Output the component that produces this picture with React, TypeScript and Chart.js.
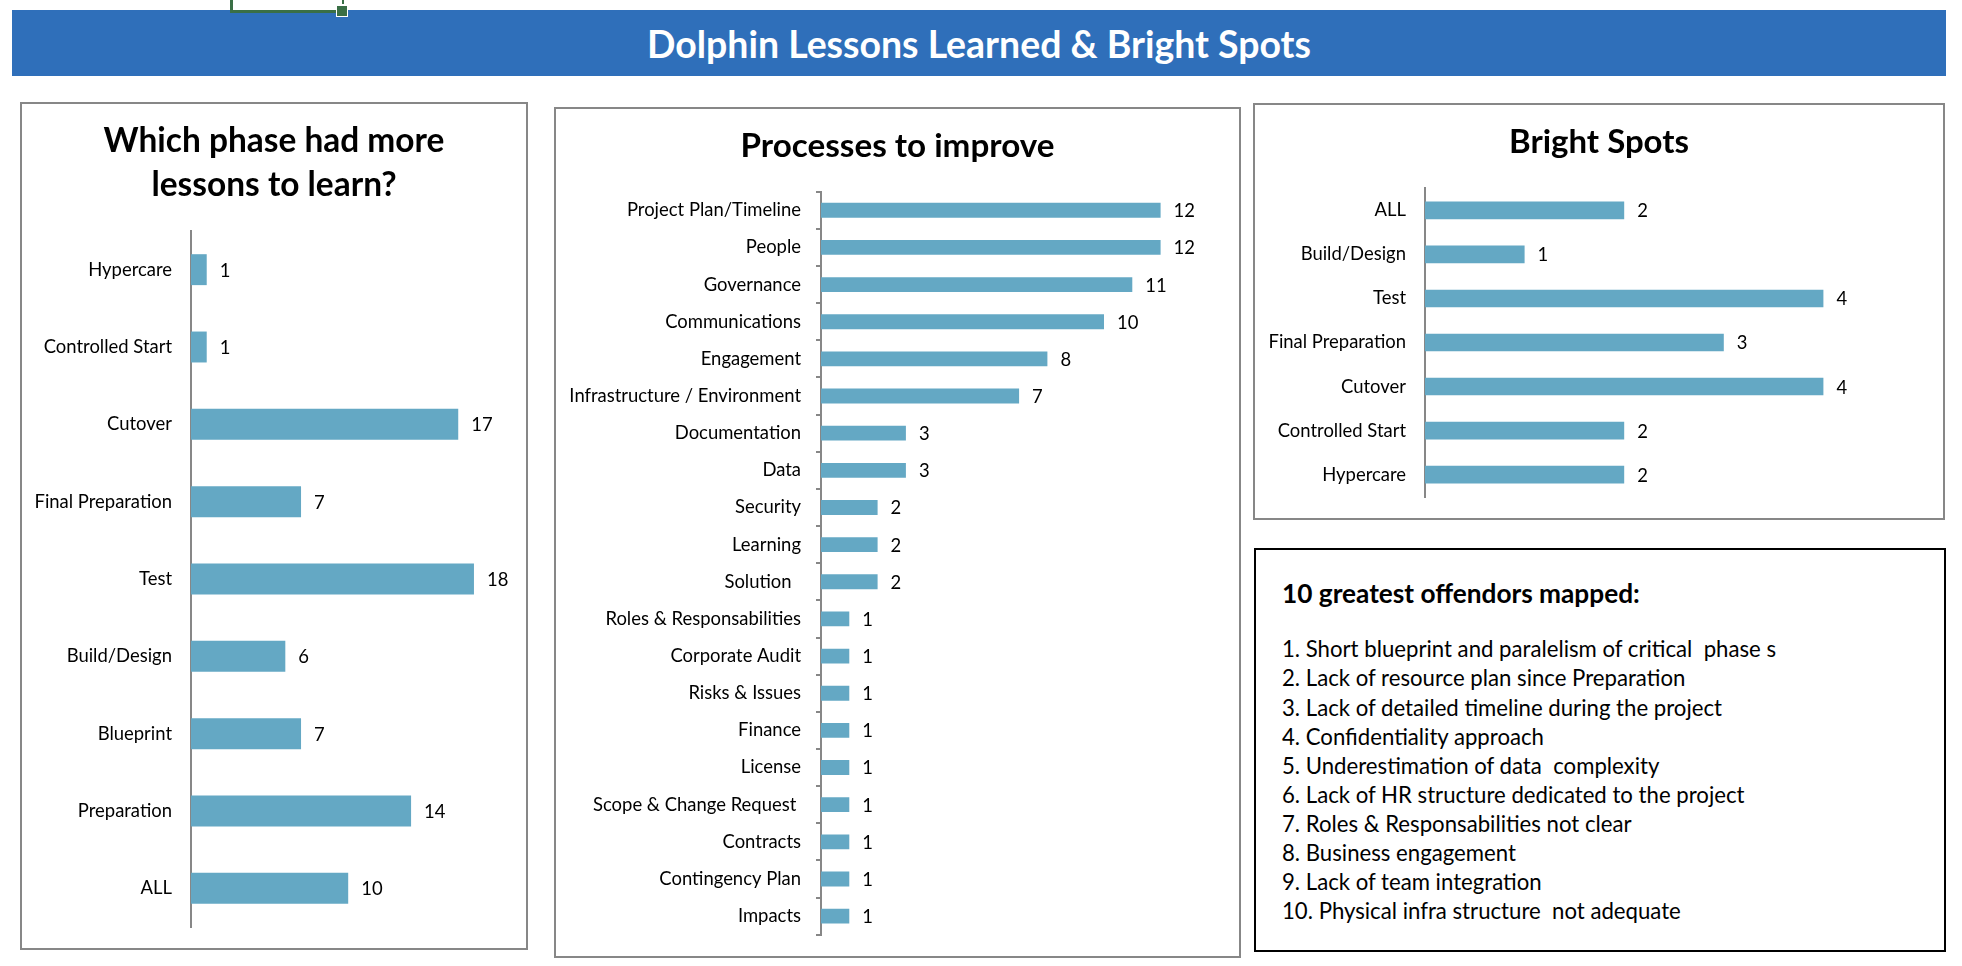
import React, { useEffect, useRef } from 'react';
import { Chart, registerables } from 'chart.js';

Chart.register(...registerables);

// ---------------- data ----------------
const phaseCategories = [
  'Hypercare',
  'Controlled Start',
  'Cutover',
  'Final Preparation',
  'Test',
  'Build/Design',
  'Blueprint',
  'Preparation',
  'ALL',
];
const phaseValues = [1, 1, 17, 7, 18, 6, 7, 14, 10];

const processCategories = [
  'Project Plan/Timeline',
  'People',
  'Governance',
  'Communications',
  'Engagement',
  'Infrastructure / Environment',
  'Documentation',
  'Data',
  'Security',
  'Learning',
  'Solution  ',
  'Roles & Responsabilities',
  'Corporate Audit',
  'Risks & Issues',
  'Finance',
  'License',
  'Scope & Change Request ',
  'Contracts',
  'Contingency Plan',
  'Impacts',
];
const processValues = [12, 12, 11, 10, 8, 7, 3, 3, 2, 2, 2, 1, 1, 1, 1, 1, 1, 1, 1, 1];

const brightCategories = [
  'ALL',
  'Build/Design',
  'Test',
  'Final Preparation',
  'Cutover',
  'Controlled Start',
  'Hypercare',
];
const brightValues = [2, 1, 4, 3, 4, 2, 2];

const bannerTitle = 'Dolphin Lessons Learned & Bright Spots';
const phaseTitle = ['Which phase had more', 'lessons to learn?'];
const processTitle = ['Processes to improve'];
const brightTitle = ['Bright Spots'];

const offenderHeading = '10 greatest offendors mapped:';
const offenderItems = [
  '1. Short blueprint and paralelism of critical  phase s',
  '2. Lack of resource plan since Preparation',
  '3. Lack of detailed timeline during the project',
  '4. Confidentiality approach',
  '5. Underestimation of data  complexity',
  '6. Lack of HR structure dedicated to the project',
  '7. Roles & Responsabilities not clear',
  '8. Business engagement',
  '9. Lack of team integration',
  '10. Physical infra structure  not adequate',
];

// ---------------- styles ----------------
const FONT = 'Lato';
const BAR = '#64A8C4';
const AXIS = '#878787';
const BANNER = '#2F6FBA';
const ASC = 0.887; // baseline offset for line-height = 1em
const MID = 0.387; // canvas "middle" baseline offset
const HTML_SHIFT = 3;
const TITLE_SHIFT = 2;

Chart.defaults.font.family = FONT;

function fitSize(text: string, weight: number, target: number) {
  const c = document.createElement('canvas').getContext('2d') as CanvasRenderingContext2D;
  c.font = `${weight} 100px ${FONT}`;
  return (100 * target) / c.measureText(text).width;
}

const valueLabels = {
  id: 'valueLabels',
  afterDatasetsDraw(chart: any, _args: any, opts: any) {
    const ctx = chart.ctx;
    ctx.save();
    ctx.font = `400 ${opts.size}px ${FONT}`;
    ctx.fillStyle = '#000';
    ctx.textBaseline = 'middle';
    ctx.textAlign = 'left';
    chart.data.datasets.forEach((ds: any, i: number) => {
      chart.getDatasetMeta(i).data.forEach((bar: any, j: number) => {
        ctx.fillText(String(ds.data[j]), bar.x + opts.gap, bar.y + 1);
      });
    });
    ctx.restore();
  },
};

type Box = { x: number; y: number; w: number; h: number };

type PanelProps = {
  box: Box;
  title: string[];
  titleTarget: number;
  titleBaselines: number[];
  categories: string[];
  values: number[];
  axisX: number;
  areaTop: number;
  areaBottom: number;
  unit: number;
  tickSize: number;
  showTicks: boolean;
  labelRight: number;
};

function BarPanel(p: PanelProps) {
  const ref = useRef<HTMLCanvasElement>(null);
  useEffect(() => {
    const { box } = p;
    const titleSize = fitSize(p.title[0], 700, p.titleTarget);
    const lh = p.titleBaselines.length > 1 ? p.titleBaselines[1] - p.titleBaselines[0] : titleSize * 1.2;
    const mid0 = p.titleBaselines[0] + TITLE_SHIFT - MID * titleSize;
    const padTop = mid0 - box.y - lh / 2;
    const topRel = p.areaTop - box.y;
    const padBottom = topRel - padTop - lh * p.title.length;
    const axisRel = p.axisX - box.x;
    const bottomPad = box.y + box.h - p.areaBottom;
    const tickLen = p.showTicks ? 5 : 0;
    const labelPad = p.axisX - p.labelRight - tickLen;

    const chart = new Chart(ref.current as HTMLCanvasElement, {
      type: 'bar',
      data: {
        labels: p.categories,
        datasets: [
          {
            data: p.values,
            backgroundColor: BAR,
            barPercentage: 0.4,
            categoryPercentage: 1,
          },
        ],
      },
      options: {
        indexAxis: 'y',
        responsive: false,
        maintainAspectRatio: false,
        animation: false,
        layout: { padding: { top: 0, left: 0, right: 0, bottom: bottomPad } },
        scales: {
          x: { display: false, min: 0, max: (box.w - axisRel) / p.unit },
          y: {
            offset: true,
            grid: {
              display: p.showTicks,
              drawOnChartArea: false,
              drawTicks: p.showTicks,
              tickLength: 5,
              color: AXIS,
              lineWidth: 2,
              offset: true,
            },
            border: { display: true, color: AXIS, width: 2 },
            ticks: {
              color: '#000',
              autoSkip: false,
              padding: labelPad,
              font: { family: FONT, size: p.tickSize },
            },
            afterFit: (s: any) => {
              s.width = axisRel;
              s.paddingTop = 0;
              s.paddingBottom = 0;
            },
          },
        },
        plugins: {
          legend: { display: false },
          tooltip: { enabled: false },
          title: {
            display: true,
            text: p.title,
            color: '#000',
            font: { family: FONT, size: titleSize, weight: 'bold', lineHeight: lh / titleSize },
            padding: { top: padTop, bottom: padBottom },
          },
          valueLabels: { size: p.tickSize, gap: 13 },
        } as any,
      },
      plugins: [valueLabels],
    } as any);
    return () => chart.destroy();
  }, []);
  const { box } = p;
  return (
    <>
      <canvas
        ref={ref}
        width={box.w}
        height={box.h}
        style={{ position: 'absolute', left: box.x, top: box.y, width: box.w, height: box.h }}
      />
      <div
        style={{
          position: 'absolute',
          left: box.x,
          top: box.y,
          width: box.w,
          height: box.h,
          border: `2px solid ${AXIS}`,
          boxSizing: 'border-box',
          pointerEvents: 'none',
        }}
      />
    </>
  );
}

function Txt(props: { text: string; x: number; baseline: number; size: number; weight: number; color?: string; center?: boolean }) {
  const { text, x, baseline, size, weight, color, center } = props;
  return (
    <div
      style={{
        position: 'absolute',
        left: center ? x - 600 : x,
        width: center ? 1200 : undefined,
        textAlign: center ? 'center' : 'left',
        top: baseline + HTML_SHIFT - ASC * size,
        fontFamily: FONT,
        fontSize: size,
        fontWeight: weight,
        lineHeight: `${size}px`,
        whiteSpace: 'pre',
        color: color || '#000',
      }}
    >
      {text}
    </div>
  );
}

export default function App() {
  const tickSize =
    (fitSize('Final Preparation', 400, 137) + fitSize('Infrastructure / Environment', 400, 233)) / 2;
  const bannerSize = fitSize(bannerTitle, 700, 664);
  const headSize = fitSize(offenderHeading, 700, 358);
  const itemSize = fitSize(offenderItems[1], 400, 404);

  return (
    <div style={{ position: 'absolute', left: 0, top: 0, width: 1962, height: 966, background: '#fff', overflow: 'hidden' }}>
      {/* banner */}
      <div style={{ position: 'absolute', left: 12, top: 10, width: 1934, height: 66, background: BANNER }} />
      <Txt text={bannerTitle} x={979} baseline={55} size={bannerSize} weight={700} color="#fff" center />

      {/* spreadsheet selection marker */}
      <div style={{ position: 'absolute', left: 230, top: 0, width: 3, height: 13, background: '#3A6F46' }} />
      <div style={{ position: 'absolute', left: 230, top: 10, width: 107, height: 3, background: '#3A6F46' }} />
      <div style={{ position: 'absolute', left: 342, top: 0, width: 2, height: 4, background: '#3A6F46' }} />
      <div style={{ position: 'absolute', left: 337, top: 6, width: 10, height: 10, background: '#3A6F46', outline: '1px solid #fff' }} />

      <BarPanel
        box={{ x: 20, y: 102, w: 508, h: 848 }}
        title={phaseTitle}
        titleTarget={341}
        titleBaselines={[152.6, 196]}
        categories={phaseCategories}
        values={phaseValues}
        axisX={191}
        areaTop={231}
        areaBottom={927}
        unit={15.72}
        tickSize={tickSize}
        showTicks={false}
        labelRight={172}
      />

      <BarPanel
        box={{ x: 554, y: 107, w: 687, h: 851 }}
        title={processTitle}
        titleTarget={314}
        titleBaselines={[157.5]}
        categories={processCategories}
        values={processValues}
        axisX={821}
        areaTop={191.7}
        areaBottom={934.7}
        unit={28.3}
        tickSize={tickSize}
        showTicks={true}
        labelRight={801}
      />

      <BarPanel
        box={{ x: 1253, y: 103, w: 692, h: 417 }}
        title={brightTitle}
        titleTarget={180}
        titleBaselines={[152.7]}
        categories={brightCategories}
        values={brightValues}
        axisX={1425}
        areaTop={188.3}
        areaBottom={496.7}
        unit={99.6}
        tickSize={tickSize}
        showTicks={false}
        labelRight={1406}
      />

      {/* offenders box */}
      <div
        style={{
          position: 'absolute',
          left: 1254,
          top: 548,
          width: 692,
          height: 404,
          border: '2px solid #000',
          boxSizing: 'border-box',
        }}
      />
      <Txt text={offenderHeading} x={1282} baseline={600} size={headSize} weight={700} />
      {offenderItems.map((t, i) => (
        <Txt key={i} text={t} x={1282} baseline={655 + i * 29.1} size={itemSize} weight={400} />
      ))}
    </div>
  );
}
